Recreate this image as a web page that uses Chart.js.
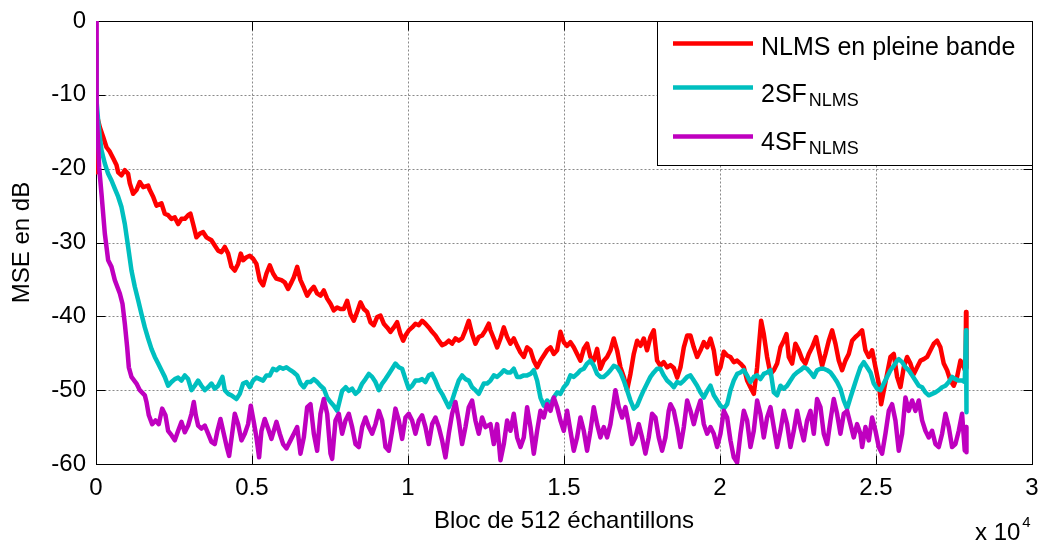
<!DOCTYPE html>
<html>
<head>
<meta charset="utf-8">
<title>MSE NLMS</title>
<script src="https://cdn.jsdelivr.net/npm/chart.js@4.4.1/dist/chart.umd.min.js"></script>
<style>
  html, body { margin: 0; padding: 0; background: #fff; }
  #c { display: block; }
</style>
</head>
<body>
<canvas id="c" width="1039" height="548"></canvas>
<script>
// Block index (x) and MSE in dB (y) for each algorithm
const blocsNLMS = [0, 30, 123, 230, 336, 443, 550, 657, 710, 817, 924, 1030, 1084, 1190, 1297, 1404, 1511, 1671, 1725, 1832, 1938, 2099, 2205, 2312, 2419, 2526, 2633, 2739, 2846, 2953, 3028, 3113, 3220, 3327, 3434, 3540, 3700, 3807, 3914, 4021, 4128, 4235, 4341, 4448, 4555, 4640, 4715, 4822, 4929, 5036, 5142, 5249, 5356, 5463, 5570, 5676, 5783, 5944, 6050, 6157, 6264,
  6341, 6448, 6554, 6661, 6768, 6875, 6982, 7088, 7195, 7302, 7409, 7516, 7622, 7729, 7836, 7943, 8050, 8156, 8263, 8370, 8477, 8584, 8690, 8797, 8904, 9011, 9118, 9224, 9331, 9438, 9545, 9652, 9758, 9844, 9919, 10025, 10132, 10239, 10346, 10453, 10559, 10666, 10773, 10880, 10987, 11093, 11200, 11307, 11413, 11520, 11627, 11734, 11841, 11948, 12055, 12161, 12268, 12375, 12482, 12589,
  12643, 12750, 12857, 12964, 13071, 13177, 13284, 13391, 13498, 13605, 13711, 13818, 13925, 14032, 14139, 14245, 14352, 14459, 14566, 14673, 14779, 14886, 14993, 15100, 15206, 15313, 15420, 15527, 15634, 15740, 15847, 15954, 16061, 16168, 16275, 16381, 16488, 16595, 16702, 16809, 16916, 17022, 17129, 17236, 17343, 17450, 17556, 17663, 17770, 17877, 17984, 18090, 18197, 18304,
  18413, 18520, 18627, 18733, 18840, 18947, 19054, 19160, 19267, 19374, 19481, 19588, 19695, 19801, 19908, 20015, 20122, 20229, 20335, 20442, 20549, 20656, 20763, 20869, 20976, 21083, 21190, 21243, 21318, 21403, 21510, 21617, 21724, 21831, 21937, 22044, 22130, 22205, 22311, 22418, 22525, 22632, 22739, 22845, 22952, 23080, 23166, 23273, 23379, 23486, 23593, 23700, 23807, 23913, 24020, 24127, 24234, 24341, 24447,
  24555, 24662, 24769, 24876, 24983, 25089, 25164, 25249, 25356, 25463, 25570, 25677, 25784, 25890, 25997, 26104, 26211, 26318, 26424, 26531, 26638, 26745, 26852, 26958, 27065, 27172, 27279, 27386, 27492, 27599, 27706, 27813, 27870, 27885, 27900];
const mseNLMS = [-20.5, -12.8, -14.4, -15.7, -17.1, -17.7, -18.6, -19.5, -20.5, -20.9, -20.2, -20.7, -22.0, -23.4, -22.9, -21.8, -22.5, -22.3, -22.9, -23.8, -25.0, -24.7, -26.1, -26.3, -26.8, -26.6, -27.5, -26.8, -26.8, -26.3, -26.1, -27.5, -29.3, -28.8, -28.6, -29.3, -29.7, -30.4, -31.1, -31.3, -30.6, -31.5, -33.3, -33.8, -32.9, -31.5, -32.4, -32.0, -31.8, -32.2, -32.9, -35.1, -35.8, -34.2, -33.1, -34.2, -34.9, -35.1, -35.4, -36.3, -35.4,
  -34.7, -33.3, -35.1, -36.1, -37.2, -36.5, -36.0, -36.9, -37.2, -36.5, -37.6, -38.3, -39.2, -38.8, -39.0, -39.0, -37.9, -39.7, -40.6, -39.4, -38.1, -39.0, -39.4, -40.8, -41.2, -40.1, -39.9, -41.0, -41.5, -42.1, -41.5, -40.8, -42.4, -43.3, -42.6, -41.9, -41.5, -41.0, -41.2, -40.6, -41.0, -41.5, -42.1, -42.6, -43.3, -43.9, -43.7, -43.3, -43.7, -43.0, -43.3, -43.0, -41.9, -40.6, -42.4, -43.7, -42.8, -42.6, -41.9, -41.0,
  -41.9, -43.0, -44.2, -43.0, -41.5, -42.8, -43.7, -43.0, -44.0, -44.9, -45.5, -44.2, -44.6, -46.0, -46.9, -46.0, -45.3, -44.6, -44.2, -45.1, -44.6, -42.1, -43.5, -44.0, -43.5, -44.2, -45.1, -46.0, -44.4, -43.7, -45.5, -46.0, -44.4, -47.1, -46.0, -45.5, -44.6, -43.0, -44.6, -46.9, -48.2, -50.0, -47.8, -45.1, -43.3, -44.0, -43.0, -44.6, -42.8, -41.9, -46.0, -46.7, -46.2, -46.9,
  -46.6, -47.0, -48.3, -46.9, -44.2, -42.6, -42.6, -44.2, -45.5, -44.6, -43.5, -44.2, -43.0, -44.6, -47.8, -46.9, -44.8, -45.3, -45.5, -46.2, -46.0, -46.4, -46.9, -48.7, -49.6, -50.5, -46.9, -44.2, -40.6, -42.4, -45.5, -47.8, -47.3, -46.4, -44.2, -43.3, -42.4, -45.5, -46.4, -43.7, -44.6, -45.8, -46.4, -45.1, -44.2, -42.8, -44.6, -46.7, -45.1, -43.3, -41.9, -43.7, -46.0, -47.3, -46.0, -45.1, -43.3, -42.8, -42.4,
  -41.9, -44.6, -45.5, -44.6, -46.9, -49.1, -51.9, -50.1, -47.8, -45.5, -45.1, -48.2, -49.6, -46.9, -45.5, -46.4, -47.8, -46.9, -46.0, -45.8, -45.5, -44.6, -43.7, -43.3, -44.2, -46.4, -47.3, -48.7, -49.4, -48.2, -46.0, -46.9, -47.5, -39.4, -47.0];

const blocs2SF = [0, 16, 69, 123, 176, 283, 390, 497, 603, 710, 817, 924, 1030, 1137, 1244, 1351, 1458, 1565, 1671, 1778, 1885, 1992, 2099, 2205, 2312, 2419, 2526, 2633, 2739, 2846, 2953, 3060, 3166, 3273, 3380, 3487, 3594, 3700, 3807, 3914, 4053, 4128, 4235, 4341, 4501, 4608, 4715, 4822, 4929, 5036, 5142, 5249, 5356, 5463, 5570, 5676, 5783, 5890, 5997, 6104,
  6234, 6341, 6448, 6554, 6661, 6768, 6875, 6982, 7088, 7195, 7302, 7409, 7516, 7622, 7729, 7836, 7889, 8003, 8103, 8210, 8317, 8424, 8530, 8637, 8744, 8851, 8958, 9065, 9171, 9278, 9385, 9492, 9598, 9705, 9812, 9919, 10025, 10132, 10239, 10346, 10453, 10559, 10666, 10773, 10880, 10987, 11093, 11200, 11307, 11413, 11520, 11627, 11734, 11841, 11948, 12055, 12161, 12268,
  12430, 12537, 12643, 12750, 12857, 12964, 13071, 13177, 13284, 13391, 13498, 13605, 13711, 13818, 13925, 14032, 14139, 14245, 14352, 14459, 14566, 14673, 14779, 14886, 14993, 15100, 15206, 15313, 15420, 15527, 15634, 15740, 15847, 15954, 16061, 16168, 16275, 16381, 16488, 16595, 16702, 16809, 16916, 17022, 17129, 17236, 17343, 17450, 17556, 17663, 17770, 17877, 17984, 18090, 18197, 18304,
  18413, 18520, 18627, 18733, 18840, 18947, 19054, 19160, 19267, 19374, 19481, 19588, 19695, 19801, 19908, 20015, 20122, 20229, 20335, 20442, 20549, 20656, 20763, 20869, 20976, 21083, 21190, 21296, 21403, 21510, 21617, 21724, 21831, 21937, 22044, 22151, 22258, 22365, 22471, 22578, 22685, 22792, 22899, 23006, 23112, 23219, 23326, 23433, 23540, 23646, 23753, 23860, 23967, 24074, 24181, 24287, 24394, 24501,
  24609, 24715, 24822, 24929, 25036, 25142, 25249, 25356, 25463, 25570, 25677, 25730, 25837, 25944, 26050, 26157, 26264, 26371, 26478, 26584, 26691, 26798, 26905, 27012, 27119, 27226, 27332, 27439, 27546, 27653, 27759, 27845, 27885, 27900];
const mse2SF = [-3.0, -10.7, -13.5, -15.7, -17.5, -19.3, -20.7, -21.6, -22.7, -23.8, -25.2, -27.5, -30.6, -33.8, -36.0, -37.8, -39.7, -41.5, -43.0, -44.4, -45.5, -46.4, -47.3, -48.2, -49.4, -48.9, -48.5, -48.3, -48.7, -48.0, -48.5, -50.0, -49.4, -48.7, -49.4, -50.0, -49.6, -49.1, -49.8, -49.4, -48.2, -50.0, -50.5, -50.7, -51.2, -50.5, -49.1, -48.9, -49.6, -48.7, -48.3, -48.5, -48.7, -48.0, -48.0, -47.1, -47.3, -46.9, -47.1, -46.9,
  -47.3, -47.6, -48.0, -49.1, -49.6, -48.9, -48.9, -48.5, -48.9, -49.4, -49.8, -51.0, -51.6, -52.1, -52.8, -51.0, -50.1, -49.6, -50.1, -49.8, -50.5, -50.1, -49.1, -48.5, -47.8, -48.2, -48.9, -50.0, -49.1, -48.5, -47.8, -47.1, -46.4, -46.9, -47.1, -48.5, -49.8, -49.4, -48.7, -48.7, -48.5, -48.9, -48.0, -47.8, -48.7, -49.8, -50.5, -51.4, -52.3, -51.4, -50.0, -48.7, -48.0, -48.5, -48.7, -49.6, -50.0, -50.5,
  -49.1, -49.1, -48.7, -48.0, -48.2, -47.8, -47.3, -47.6, -47.6, -47.1, -48.2, -48.2, -48.0, -48.0, -47.8, -47.3, -48.7, -51.0, -52.1, -51.4, -51.9, -51.0, -50.3, -50.5, -49.6, -49.1, -48.0, -48.2, -47.8, -47.3, -47.1, -46.4, -46.0, -46.7, -47.8, -48.2, -48.2, -47.8, -47.3, -46.7, -46.9, -47.6, -48.7, -50.0, -51.4, -52.5, -52.1, -51.0, -50.0, -49.1, -48.2, -47.6, -47.1, -47.1, -48.0, -48.7,
  -49.1, -49.6, -48.9, -49.1, -48.7, -48.2, -48.0, -48.7, -49.4, -50.3, -51.0, -50.1, -49.4, -50.7, -51.4, -52.1, -52.5, -51.9, -50.0, -48.7, -47.8, -47.6, -47.3, -48.0, -48.9, -48.2, -48.0, -48.5, -47.8, -47.6, -47.3, -50.3, -50.7, -49.4, -49.8, -49.4, -48.7, -48.0, -47.6, -47.3, -46.9, -47.1, -47.6, -48.2, -47.3, -47.1, -47.1, -47.3, -47.6, -48.2, -48.9, -49.8, -51.4, -52.5, -51.0, -49.6, -48.2, -46.9,
  -46.2, -46.9, -47.6, -49.1, -49.8, -50.0, -49.1, -48.2, -47.3, -46.7, -46.0, -45.8, -46.2, -46.9, -47.3, -48.0, -48.7, -49.4, -49.6, -50.3, -50.7, -50.5, -50.3, -50.0, -49.6, -49.4, -48.9, -48.2, -48.5, -48.7, -48.7, -48.9, -41.9, -53.0];

const blocs4SF = [0, 20, 101, 176, 283, 390, 497, 603, 764, 849, 924, 999, 1052, 1137, 1298, 1404, 1565, 1618, 1693, 1800, 1906, 2013, 2120, 2227, 2312, 2419, 2526, 2633, 2739, 2846, 2953, 3060, 3135, 3199, 3273, 3380, 3487, 3594, 3700, 3807, 3893, 3989, 4096, 4203, 4267, 4363, 4448, 4555, 4662, 4769, 4875, 4961, 5057, 5142, 5228, 5303, 5409, 5516, 5623, 5783, 5890, 5997, 6104,
  6234, 6341, 6448, 6554, 6661, 6768, 6875, 6982, 7088, 7195, 7302, 7409, 7516, 7569, 7676, 7783, 7889, 7996, 8103, 8210, 8317, 8424, 8530, 8637, 8744, 8851, 8958, 9065, 9171, 9278, 9385, 9492, 9598, 9705, 9812, 9919, 10025, 10132, 10239, 10346, 10453, 10559, 10666, 10773, 10880, 10987, 11093, 11200, 11307, 11413, 11520, 11627, 11734, 11841, 11948, 12055, 12161, 12268, 12375, 12482,
  12643, 12750, 12857, 12964, 13071, 13177, 13284, 13391, 13498, 13605, 13711, 13818, 13925, 14032, 14139, 14245, 14352, 14459, 14566, 14673, 14779, 14886, 14993, 15100, 15206, 15313, 15420, 15527, 15634, 15740, 15847, 15954, 16061, 16168, 16275, 16381, 16488, 16648, 16755, 16862, 16969, 17076, 17182, 17289, 17396, 17503, 17610, 17716, 17823, 17930, 18037, 18144, 18251, 18357,
  18413, 18520, 18627, 18733, 18840, 18947, 19054, 19160, 19267, 19374, 19481, 19588, 19695, 19801, 19908, 20015, 20122, 20229, 20335, 20442, 20549, 20656, 20763, 20869, 20976, 21083, 21190, 21296, 21403, 21510, 21617, 21724, 21831, 21937, 22044, 22151, 22258, 22365, 22471, 22578, 22685, 22792, 22899, 23006, 23112, 23219, 23326, 23433, 23540, 23646, 23753, 23860, 23967, 24074, 24181, 24287, 24394,
  24502, 24555, 24662, 24769, 24876, 24983, 25089, 25196, 25303, 25410, 25516, 25623, 25730, 25837, 25944, 26050, 26157, 26264, 26371, 26478, 26584, 26691, 26798, 26905, 27012, 27119, 27226, 27332, 27439, 27546, 27653, 27759, 27845, 27885, 27900];
const mse4SF = [0.0, -12.0, -19.8, -23.4, -28.8, -32.4, -33.3, -35.1, -36.9, -38.3, -41.0, -44.2, -46.9, -48.2, -49.1, -50.0, -50.7, -51.6, -53.4, -54.6, -54.1, -54.6, -52.5, -53.4, -55.5, -56.1, -56.8, -55.5, -54.3, -55.7, -54.8, -53.2, -51.6, -53.4, -54.8, -55.2, -54.8, -55.9, -57.0, -57.3, -55.5, -53.9, -55.9, -57.9, -58.9, -55.9, -53.2, -54.6, -56.8, -55.9, -54.6, -52.1, -54.3, -56.4, -59.1, -55.5, -53.9, -55.2, -56.6, -54.3, -55.9, -57.3, -57.9,
  -56.8, -55.9, -55.0, -58.6, -56.4, -52.3, -51.9, -55.9, -58.2, -53.2, -51.2, -53.2, -58.6, -59.3, -54.1, -53.2, -55.9, -54.1, -53.2, -55.0, -57.3, -57.7, -55.0, -53.7, -55.0, -55.9, -54.6, -52.8, -54.1, -57.7, -58.2, -55.5, -52.5, -54.1, -56.6, -53.7, -53.2, -54.1, -55.9, -54.1, -53.4, -55.0, -57.3, -54.6, -53.7, -55.0, -56.8, -59.1, -55.9, -53.2, -51.6, -54.1, -57.3, -55.0, -52.3, -51.4, -54.1, -55.9, -53.7, -55.0,
  -54.6, -57.3, -54.6, -59.5, -57.3, -54.1, -55.5, -53.2, -56.4, -57.7, -56.4, -52.3, -55.0, -58.6, -55.5, -52.8, -53.7, -51.9, -52.8, -51.0, -52.3, -54.1, -55.5, -52.8, -55.5, -58.2, -56.4, -53.7, -55.5, -58.2, -55.5, -52.3, -54.6, -56.4, -55.0, -56.4, -54.6, -50.0, -52.3, -53.7, -52.3, -54.6, -57.3, -56.4, -54.6, -56.4, -58.6, -56.4, -53.2, -53.7, -56.4, -58.2, -56.4, -52.8,
  -51.9, -52.8, -55.0, -57.7, -55.0, -51.4, -52.8, -54.6, -52.8, -51.4, -54.6, -55.9, -55.0, -55.9, -57.7, -55.9, -52.8, -53.7, -56.8, -59.1, -59.8, -55.9, -52.8, -54.1, -57.7, -55.5, -51.4, -53.2, -56.4, -53.7, -52.3, -55.0, -57.7, -55.5, -52.8, -54.6, -57.7, -55.5, -52.8, -55.0, -56.8, -54.1, -52.8, -55.9, -51.2, -52.3, -55.9, -57.3, -54.1, -51.2, -53.2, -55.9, -53.2, -52.8, -54.6, -56.4, -54.6,
  -55.9, -57.7, -55.0, -56.8, -53.7, -55.5, -57.7, -58.6, -55.9, -52.8, -51.9, -54.1, -58.2, -55.9, -51.0, -52.8, -51.4, -52.8, -51.4, -54.1, -55.5, -56.4, -55.5, -57.3, -57.7, -55.9, -53.2, -55.0, -57.7, -57.3, -55.5, -53.2, -58.2, -55.0, -58.4];

// Axis ticks
const xTickValues = [0, 5000, 10000, 15000, 20000, 25000, 30000];
const xTickLabels = ['0', '0.5', '1', '1.5', '2', '2.5', '3'];
const yTickValues = [0, -10, -20, -30, -40, -50, -60];

// Legend text (main part and subscript)
const legendMain = ['NLMS en pleine bande', '2SF', '4SF'];
const legendSub = ['', 'NLMS', 'NLMS'];

const FONT = "'Liberation Sans', Arial, Helvetica, sans-serif";
Chart.defaults.font.family = FONT;
Chart.defaults.color = '#000';

const toPoints = (xs, ys) => xs.map((x, i) => ({ x, y: ys[i] }));

// Dotted grid, axes box and inward tick marks (drawn under the curves)
const axesFrame = {
  id: 'axesFrame',
  beforeDatasetsDraw(chart) {
    const { ctx, chartArea: a, scales: { x, y } } = chart;
    const L = a.left + 0.5, R = a.right + 0.5, T = a.top + 0.5, B = a.bottom + 0.5;
    ctx.save();
    ctx.lineWidth = 1;
    ctx.strokeStyle = 'rgba(60,60,60,0.6)';
    ctx.setLineDash([2, 2]);
    xTickValues.forEach(v => {
      const px = Math.round(x.getPixelForValue(v)) + 0.5;
      ctx.beginPath(); ctx.moveTo(px, T); ctx.lineTo(px, B); ctx.stroke();
    });
    yTickValues.forEach(v => {
      const py = Math.round(y.getPixelForValue(v)) + 0.5;
      ctx.beginPath(); ctx.moveTo(L, py); ctx.lineTo(R, py); ctx.stroke();
    });
    ctx.setLineDash([]);
    ctx.strokeStyle = '#000';
    const tl = 9;
    xTickValues.forEach(v => {
      const px = Math.round(x.getPixelForValue(v)) + 0.5;
      ctx.beginPath();
      ctx.moveTo(px, B); ctx.lineTo(px, B - tl);
      ctx.moveTo(px, T); ctx.lineTo(px, T + tl);
      ctx.stroke();
    });
    yTickValues.forEach(v => {
      const py = Math.round(y.getPixelForValue(v)) + 0.5;
      ctx.beginPath();
      ctx.moveTo(L, py); ctx.lineTo(L + tl, py);
      ctx.moveTo(R, py); ctx.lineTo(R - tl, py);
      ctx.stroke();
    });
    ctx.strokeRect(L, T, R - L, B - T);
    ctx.restore();
  }
};

// Legend box with subscripts, plus the x10^4 exponent of the x axis
const legendBox = {
  id: 'legendBox',
  afterDraw(chart) {
    const { ctx, chartArea: a } = chart;
    const box = { left: 657, top: a.top, right: a.right, bottom: 165 };
    const rows = [{ lineY: 43.5, base: 55 }, { lineY: 87.5, base: 102 }, { lineY: 136.5, base: 150 }];
    ctx.save();
    ctx.fillStyle = '#fff';
    ctx.fillRect(box.left, box.top, box.right - box.left, box.bottom - box.top);
    ctx.strokeStyle = '#000';
    ctx.lineWidth = 1;
    ctx.strokeRect(box.left + 0.5, box.top + 0.5, box.right - box.left, box.bottom - box.top);
    chart.data.datasets.forEach((ds, i) => {
      ctx.strokeStyle = ds.borderColor;
      ctx.lineWidth = 4.5;
      ctx.beginPath(); ctx.moveTo(673, rows[i].lineY); ctx.lineTo(753, rows[i].lineY); ctx.stroke();
      ctx.fillStyle = '#000';
      ctx.textAlign = 'left';
      ctx.textBaseline = 'alphabetic';
      ctx.font = '25px ' + FONT;
      ctx.fillText(legendMain[i], 761, rows[i].base);
      if (legendSub[i]) {
        const w = ctx.measureText(legendMain[i]).width;
        ctx.font = '18px ' + FONT;
        ctx.fillText(legendSub[i], 761 + w + 2, rows[i].base + 4);
      }
    });
    // x 10^4
    ctx.fillStyle = '#000';
    ctx.font = '24px ' + FONT;
    ctx.fillText('x 10', 975, 540);
    const w = ctx.measureText('x 10').width;
    ctx.font = '15px ' + FONT;
    ctx.fillText('4', 975 + w + 2, 527);
    ctx.restore();
  }
};

new Chart(document.getElementById('c'), {
  type: 'line',
  data: {
    datasets: [
      { label: 'NLMS en pleine bande', data: toPoints(blocsNLMS, mseNLMS), borderColor: '#ff0000', order: 3 },
      { label: '2SF NLMS', data: toPoints(blocs2SF, mse2SF), borderColor: '#00bfbf', order: 2 },
      { label: '4SF NLMS', data: toPoints(blocs4SF, mse4SF), borderColor: '#bf00bf', order: 1 }
    ]
  },
  options: {
    responsive: false,
    animation: false,
    devicePixelRatio: 1,
    parsing: false,
    elements: {
      point: { radius: 0 },
      line: { borderWidth: 4.5, tension: 0, borderJoinStyle: 'round', borderCapStyle: 'butt', fill: false }
    },
    layout: { padding: { top: 21, right: 7, bottom: 0, left: 0 }, autoPadding: false },
    plugins: { legend: { display: false }, tooltip: { enabled: false } },
    scales: {
      x: {
        type: 'linear', min: 0, max: 30000,
        afterFit(s) { s.height = 84; },
        afterBuildTicks(s) { s.ticks = xTickValues.map(v => ({ value: v })); },
        ticks: {
          font: { size: 24 }, color: '#000', padding: 0, maxRotation: 0, autoSkip: false,
          callback: (v) => xTickLabels[xTickValues.indexOf(v)]
        },
        grid: { display: false, drawTicks: true, tickLength: 10 },
        border: { display: false },
        title: { display: true, text: 'Bloc de 512 échantillons', font: { size: 24 }, color: '#000', padding: { top: 0, bottom: 12 } }
      },
      y: {
        type: 'linear', min: -60, max: 0,
        afterFit(s) { s.width = 96; },
        afterBuildTicks(s) { s.ticks = yTickValues.map(v => ({ value: v })); },
        ticks: { font: { size: 24 }, color: '#000', padding: 0, callback: (v) => String(v) },
        grid: { display: false, drawTicks: true, tickLength: 10 },
        border: { display: false },
        title: { display: true, text: 'MSE en dB', font: { size: 24 }, color: '#000', padding: { top: 8, bottom: 0 } }
      }
    }
  },
  plugins: [axesFrame, legendBox]
});
</script>
</body>
</html>
